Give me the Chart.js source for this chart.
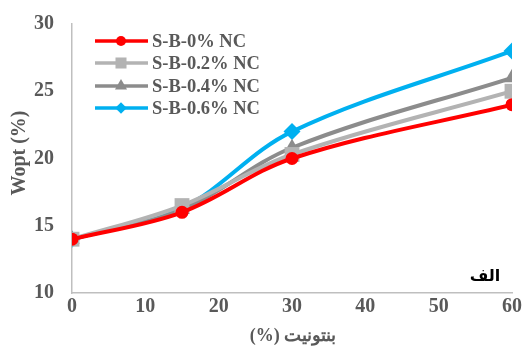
<!DOCTYPE html>
<html>
<head>
<meta charset="utf-8">
<script src="https://cdn.jsdelivr.net/npm/chart.js@4"></script>
<style>
  body { margin: 0; background: #fff; }
  #wrap { width: 526px; height: 349px; }
</style>
</head>
<body>
<div id="wrap"><canvas id="chart" width="526" height="349"></canvas></div>
<script>
// bentonite content (%)
const xValues = [0, 15, 30, 60];
const seriesNames = ['S-B-0% NC', 'S-B-0.2% NC', 'S-B-0.4% NC', 'S-B-0.6% NC'];
const nc0 = [14, 16, 20, 24];
const nc02 = [14, 16.5, 20.3, 25];
const nc04 = [14, 16.2, 20.8, 26];
const nc06 = [14, 16.3, 22, 28];
const xTicks = [0, 10, 20, 30, 40, 50, 60];
const yTicks = [10, 15, 20, 25, 30];
const xTitle = 'بنتونیت (%)';
const yTitle = 'Wopt (%)';
const panelLabel = 'الف';

const colors = ['#ff0000', '#b3b3b3', '#8c8c8c', '#00b0f0'];
const markers = ['circle', 'rect', 'triangle', 'rectRot'];
const sizes = [6.5, 10.5, 9, 8.5];
const legendSizes = [5, 7.8, 7, 5.8];
const allValues = [nc0, nc02, nc04, nc06];

const labelColor = '#595959';
const serif = "'Liberation Serif', 'Times New Roman', serif";

const datasets = allValues.map((vals, i) => ({
  label: seriesNames[i],
  data: vals.map((v, j) => ({ x: xValues[j], y: v })),
  borderColor: colors[i],
  backgroundColor: colors[i],
  borderWidth: 4,
  pointStyle: markers[i],
  pointRadius: sizes[i],
  pointBorderWidth: 0,
  tension: 0.35,
  fill: false
}));

// legend + axis titles drawn by hand so they sit where Excel put them
const extrasPlugin = {
  id: 'extras',
  afterDraw(chart) {
    const c = chart.ctx;
    const rows = [41, 63, 86, 108];
    c.save();
    datasets.forEach((ds, i) => {
      const y = rows[i];
      c.strokeStyle = ds.borderColor;
      c.lineWidth = 3.5;
      c.beginPath();
      c.moveTo(95, y);
      c.lineTo(148, y);
      c.stroke();
      c.fillStyle = ds.borderColor;
      Chart.helpers.drawPoint(c, {
        pointStyle: ds.pointStyle, radius: legendSizes[i], rotation: 0, borderWidth: 0
      }, 121, y);
      c.fillStyle = labelColor;
      c.font = 'bold 18.5px ' + serif;
      c.textBaseline = 'middle';
      c.textAlign = 'left';
      c.fillText(ds.label, 152, y + 1);
    });

    // x title (right-to-left text)
    c.fillStyle = labelColor;
    c.font = 'bold 18px ' + serif;
    c.direction = 'rtl';
    c.textAlign = 'center';
    c.textBaseline = 'middle';
    c.fillText(xTitle, 293, 336);
    c.direction = 'ltr';

    // y title
    c.save();
    c.translate(20, 153);
    c.rotate(-Math.PI / 2);
    c.font = 'bold 20px ' + serif;
    c.fillText(yTitle, 0, 0);
    c.restore();

    // panel label
    c.fillStyle = '#000';
    c.font = "bold 16px 'DejaVu Sans', sans-serif";
    c.direction = 'rtl';
    c.textAlign = 'center';
    c.fillText(panelLabel, 485, 277);
    c.restore();
  }
};

new Chart(document.getElementById('chart'), {
  type: 'line',
  data: { datasets },
  options: {
    responsive: false,
    animation: false,
    layout: { padding: { top: 24, right: 14, left: 0, bottom: 0 } },
    plugins: { legend: { display: false }, tooltip: { enabled: false } },
    scales: {
      x: {
        type: 'linear',
        min: 0,
        max: 60,
        afterBuildTicks: (s) => { s.ticks = xTicks.map(v => ({ value: v })); },
        afterFit: (s) => { s.height = 56; s.paddingLeft = 0; s.paddingRight = 0; },
        grid: { display: false, drawTicks: false },
        border: { display: true, color: '#bfbfbf', width: 1.5 },
        ticks: { color: labelColor, font: { family: serif, size: 20, weight: 'bold' }, padding: 2 }
      },
      y: {
        min: 10,
        max: 30,
        afterBuildTicks: (s) => { s.ticks = yTicks.map(v => ({ value: v })); },
        afterFit: (s) => { s.width = 72; s.paddingTop = 0; s.paddingBottom = 0; },
        grid: { display: false, drawTicks: false },
        border: { display: true, color: '#bfbfbf', width: 1.5 },
        ticks: { color: labelColor, font: { family: serif, size: 20, weight: 'bold' }, padding: 18 }
      }
    }
  },
  plugins: [extrasPlugin]
});
</script>
</body>
</html>
